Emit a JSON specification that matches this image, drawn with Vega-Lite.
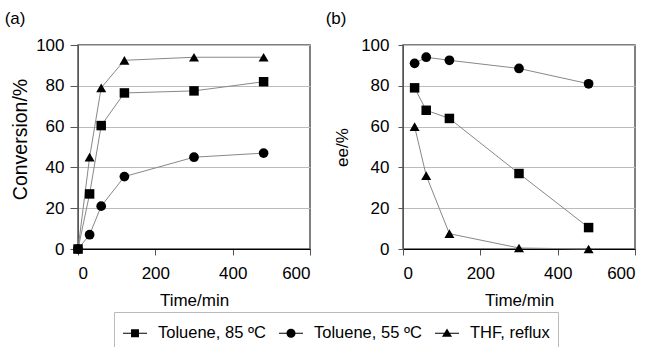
{
  "$schema": "https://vega.github.io/schema/vega-lite/v6.json",
  "padding": {"left": 3, "top": 9, "right": 5, "bottom": 0},
  "background": "white",
  "config": {
    "font": "Liberation Sans",
    "view": {"stroke": "#555", "strokeWidth": 1.5},
    "axis": {
      "labelFont": "Liberation Sans", "titleFont": "Liberation Sans",
      "labelFontSize": 17, "titleFontSize": 17, "titleFontWeight": "normal",
      "labelColor": "black", "titleColor": "black",
      "tickColor": "#555", "tickSize": 6, "domainColor": "#555", "gridColor": "#bbb", "gridWidth": 1
    },
    "title": {"font": "Liberation Sans", "fontSize": 17, "fontWeight": "normal", "anchor": "start", "color": "black"}
  },
  "datasets": {
    "d": [
      {"panel": "a", "series": "Toluene, 85 ºC", "time": 0, "value": 0},
      {"panel": "a", "series": "Toluene, 85 ºC", "time": 30, "value": 27},
      {"panel": "a", "series": "Toluene, 85 ºC", "time": 60, "value": 60.5},
      {"panel": "a", "series": "Toluene, 85 ºC", "time": 120, "value": 76.5},
      {"panel": "a", "series": "Toluene, 85 ºC", "time": 300, "value": 77.5},
      {"panel": "a", "series": "Toluene, 85 ºC", "time": 480, "value": 82},
      {"panel": "a", "series": "Toluene, 55 ºC", "time": 0, "value": 0},
      {"panel": "a", "series": "Toluene, 55 ºC", "time": 30, "value": 7},
      {"panel": "a", "series": "Toluene, 55 ºC", "time": 60, "value": 21},
      {"panel": "a", "series": "Toluene, 55 ºC", "time": 120, "value": 35.5},
      {"panel": "a", "series": "Toluene, 55 ºC", "time": 300, "value": 45},
      {"panel": "a", "series": "Toluene, 55 ºC", "time": 480, "value": 47},
      {"panel": "a", "series": "THF, reflux", "time": 0, "value": 0},
      {"panel": "a", "series": "THF, reflux", "time": 30, "value": 45},
      {"panel": "a", "series": "THF, reflux", "time": 60, "value": 79},
      {"panel": "a", "series": "THF, reflux", "time": 120, "value": 92.5},
      {"panel": "a", "series": "THF, reflux", "time": 300, "value": 94},
      {"panel": "a", "series": "THF, reflux", "time": 480, "value": 94},
      {"panel": "b", "series": "Toluene, 85 ºC", "time": 30, "value": 79},
      {"panel": "b", "series": "Toluene, 85 ºC", "time": 60, "value": 68},
      {"panel": "b", "series": "Toluene, 85 ºC", "time": 120, "value": 64},
      {"panel": "b", "series": "Toluene, 85 ºC", "time": 300, "value": 37},
      {"panel": "b", "series": "Toluene, 85 ºC", "time": 480, "value": 10.5},
      {"panel": "b", "series": "Toluene, 55 ºC", "time": 30, "value": 91},
      {"panel": "b", "series": "Toluene, 55 ºC", "time": 60, "value": 94},
      {"panel": "b", "series": "Toluene, 55 ºC", "time": 120, "value": 92.5},
      {"panel": "b", "series": "Toluene, 55 ºC", "time": 300, "value": 88.5},
      {"panel": "b", "series": "Toluene, 55 ºC", "time": 480, "value": 81},
      {"panel": "b", "series": "THF, reflux", "time": 30, "value": 60},
      {"panel": "b", "series": "THF, reflux", "time": 60, "value": 36},
      {"panel": "b", "series": "THF, reflux", "time": 120, "value": 7.5},
      {"panel": "b", "series": "THF, reflux", "time": 300, "value": 0.5},
      {"panel": "b", "series": "THF, reflux", "time": 480, "value": 0}
    ]
  },
  "resolve": {"scale": {"shape": "independent", "size": "independent"}, "legend": {"shape": "independent"}},
  "bounds": "flush",
  "spacing": 93,
  "hconcat": [
    {
      "width": 232, "height": 204,
      "title": {"text": "(a)", "dx": -6, "offset": 8},
      "data": {"name": "d"},
      "transform": [{"filter": "datum.panel == 'a'"}],
      "resolve": {"scale": {"shape": "independent"}},
      "encoding": {
        "x": {"field": "time", "type": "quantitative", "scale": {"domain": [0, 600]},
              "axis": {"values": [0, 200, 400, 600], "title": "Time/min", "grid": false, "domainColor": "black", "labelPadding": 10, "titlePadding": 11}},
        "y": {"field": "value", "type": "quantitative", "scale": {"domain": [0, 100]},
              "axis": {"values": [0, 20, 40, 60, 80, 100], "title": "Conversion/%", "titleFontSize": 19.5, "titleY": 94, "tickSize": 8, "labelPadding": 6, "titlePadding": 5}}
      },
      "layer": [
        {"mark": {"type": "line", "color": "#888", "strokeWidth": 1}, "encoding": {"detail": {"field": "series"}}},
        {"mark": {"type": "point", "filled": true, "color": "black", "opacity": 1},
         "encoding": {
           "shape": {"field": "series", "scale": {"domain": ["Toluene, 85 ºC", "Toluene, 55 ºC", "THF, reflux"], "range": ["square", "circle", "triangle-up"]}, "legend": null},
           "size": {"field": "series", "scale": {"domain": ["Toluene, 85 ºC", "Toluene, 55 ºC", "THF, reflux"], "range": [90, 100, 140]}, "legend": null}
         }},
        {"transform": [{"filter": "datum.time < 0"}],
         "mark": {"type": "point", "filled": true, "color": "black", "opacity": 1},
         "encoding": {
           "shape": {"field": "series",
             "scale": {"domain": ["Toluene, 85 ºC", "Toluene, 55 ºC", "THF, reflux"],
                       "range": ["M-1,-0.04H1V0.04H-1ZM-0.33,-0.33H0.33V0.33H-0.33Z", "M-1,-0.04H1V0.04H-1ZM-0.38,0A0.38,0.38,0,1,1,0.38,0A0.38,0.38,0,1,1,-0.38,0Z", "M-1,-0.04H1V0.04H-1ZM0,-0.4L0.42,0.3H-0.42Z"]},
             "legend": {"title": null, "orient": "none", "legendX": 36, "legendY": 267, "direction": "horizontal",
                        "symbolSize": 576, "symbolFillColor": "black", "symbolOpacity": 1,
                        "labelFontSize": 16.5, "labelColor": "black", "labelFont": "Liberation Sans", "labelOffset": 10, "columnPadding": 10,
                        "strokeColor": "#bbb", "fillColor": "white", "padding": 8}}
         }}
      ]
    },
    {
      "width": 232, "height": 204,
      "title": {"text": "(b)", "dx": -8, "offset": 8},
      "data": {"name": "d"},
      "transform": [{"filter": "datum.panel == 'b'"}],
      "encoding": {
        "x": {"field": "time", "type": "quantitative", "scale": {"domain": [0, 600]},
              "axis": {"values": [0, 200, 400, 600], "title": "Time/min", "grid": false, "domainColor": "black", "labelPadding": 10, "titlePadding": 11}},
        "y": {"field": "value", "type": "quantitative", "scale": {"domain": [0, 100]},
              "axis": {"values": [0, 20, 40, 60, 80, 100], "title": "ee/%", "tickSize": 5, "labelPadding": 9, "titlePadding": 9}}
      },
      "layer": [
        {"mark": {"type": "line", "color": "#888", "strokeWidth": 1}, "encoding": {"detail": {"field": "series"}}},
        {"mark": {"type": "point", "filled": true, "color": "black", "opacity": 1},
         "encoding": {
           "shape": {"field": "series", "scale": {"domain": ["Toluene, 85 ºC", "Toluene, 55 ºC", "THF, reflux"], "range": ["square", "circle", "triangle-up"]}, "legend": null},
           "size": {"field": "series", "scale": {"domain": ["Toluene, 85 ºC", "Toluene, 55 ºC", "THF, reflux"], "range": [90, 100, 140]}, "legend": null}
         }}
      ]
    }
  ]
}
